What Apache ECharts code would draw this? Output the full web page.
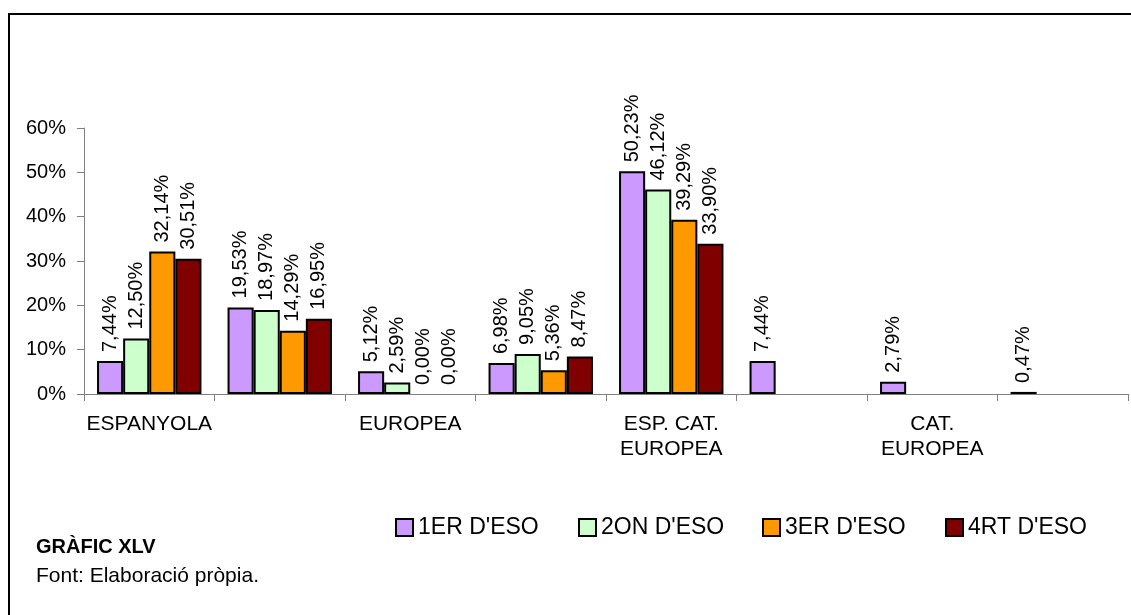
<!DOCTYPE html>
<html>
<head>
<meta charset="utf-8">
<script src="https://cdn.jsdelivr.net/npm/echarts@6/dist/echarts.min.js"></script>
<style>
  html, body { margin: 0; padding: 0; background: #fff; }
  #chart { width: 1131px; height: 615px; }
</style>
</head>
<body>
<div id="chart"></div>
<script>
// categories (only every other one is labelled in the original)
const categories = [
  'ESPANYOLA', 'CATALANA', 'EUROPEA', 'ESP. CAT.',
  'ESP. CAT.\nEUROPEA', 'ESP. EUROPEA', 'CAT.\nEUROPEA', 'ALTRES'
];
const seriesNames = ["1ER D'ESO", "2ON D'ESO", "3ER D'ESO", "4RT D'ESO"];
const colors = ['#CC99FF', '#CCFFCC', '#FF9900', '#800000'];

// percentages per course
const eso1 = [7.44, 19.53, 5.12, 6.98, 50.23, 7.44, 2.79, 0.47];
const eso2 = [12.50, 18.97, 2.59, 9.05, 46.12, null, null, null];
const eso3 = [32.14, 14.29, 0.00, 5.36, 39.29, null, null, null];
const eso4 = [30.51, 16.95, 0.00, 8.47, 33.90, null, null, null];
const values = [eso1, eso2, eso3, eso4];

const yTicks = { min: 0, max: 60, interval: 10 };

const FONT = 'Liberation Sans, Arial, sans-serif';
const legendLeft = [395, 578, 762, 945];

const chart = echarts.init(document.getElementById('chart'));

const fmt = (p) => p.value == null ? '' : p.value.toFixed(2).replace('.', ',') + '%';

// zero bars have no visible outline in the original
const toData = (arr) => arr.map((v) => v === 0 ? { value: v, itemStyle: { borderWidth: 0 } } : v);

chart.setOption({
  animation: false,
  backgroundColor: '#fff',
  textStyle: { fontFamily: FONT },
  title: [
    {
      text: 'GRÀFIC XLV', left: 36, top: 535, padding: 0,
      textStyle: { fontFamily: FONT, fontSize: 20, fontWeight: 'bold', color: '#000', lineHeight: 24 }
    },
    {
      text: 'Font: Elaboració pròpia.', left: 36, top: 564, padding: 0,
      textStyle: { fontFamily: FONT, fontSize: 21, fontWeight: 'normal', color: '#000', lineHeight: 24 }
    }
  ],
  legend: seriesNames.map((name, i) => ({
    data: [name],
    left: legendLeft[i],
    top: 516,
    padding: 0,
    itemWidth: 17,
    itemHeight: 17,
    icon: 'rect',
    itemStyle: { borderColor: '#000', borderWidth: 2 },
    textStyle: { fontFamily: FONT, fontSize: 23, color: '#000' }
  })),
  grid: { left: 84, right: 3, top: 128, bottom: 221 },
  xAxis: {
    type: 'category',
    data: categories,
    axisLine: { lineStyle: { color: '#808080', width: 1 } },
    axisTick: { show: true, interval: 0, length: 7, lineStyle: { color: '#808080' } },
    axisLabel: {
      interval: 1, margin: 18, fontSize: 21, lineHeight: 25,
      color: '#000', fontFamily: FONT, align: 'center'
    },
    splitLine: { show: false }
  },
  yAxis: {
    type: 'value',
    min: yTicks.min,
    max: yTicks.max,
    interval: yTicks.interval,
    axisLine: { show: true, lineStyle: { color: '#808080', width: 1 } },
    axisTick: { show: true, length: 7, lineStyle: { color: '#808080' } },
    axisLabel: { formatter: '{value}%', margin: 18, fontSize: 20, color: '#000', fontFamily: FONT },
    splitLine: { show: false }
  },
  series: values.map((data, i) => ({
    name: seriesNames[i],
    type: 'bar',
    data: toData(data),
    barGap: '0%',
    barCategoryGap: '20%',
    itemStyle: { color: colors[i], borderColor: '#000', borderWidth: 2 },
    label: {
      show: true,
      position: 'top',
      rotate: 90,
      align: 'left',
      verticalAlign: 'middle',
      distance: 9,
      fontSize: 20,
      color: '#000',
      fontFamily: FONT,
      formatter: fmt
    }
  })),
  graphic: [
    { type: 'line', shape: { x1: 9, y1: 14, x2: 9, y2: 615 }, style: { stroke: '#000', lineWidth: 2 } },
    { type: 'line', shape: { x1: 8, y1: 14, x2: 1131, y2: 14 }, style: { stroke: '#000', lineWidth: 2 } }
  ]
});
</script>
</body>
</html>
